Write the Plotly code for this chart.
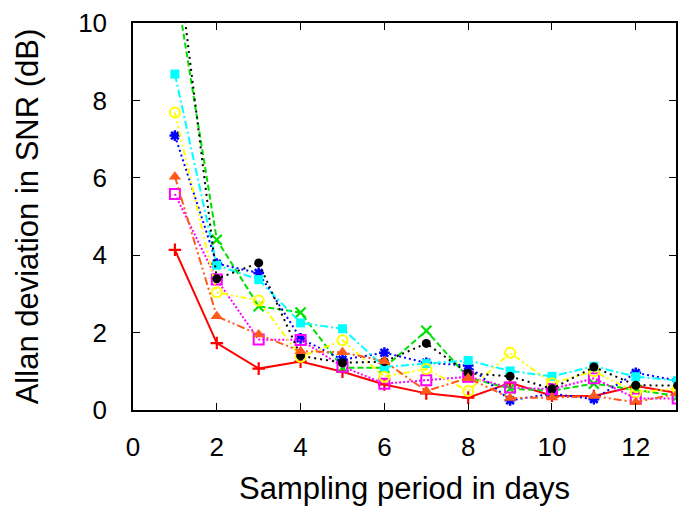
import plotly.graph_objects as go

days = [1, 2, 3, 4, 5, 6, 7, 8, 9, 10, 11, 12, 13]

red_vals     = [4.14, 1.73, 1.07, 1.25, 0.99, 0.66, 0.43, 0.32, 0.70, 0.37, 0.36, 0.62, 0.44]
green_vals   = [11.1, 4.40, 2.68, 2.52, 1.09, 1.09, 2.05, 0.84, 0.55, 0.50, 0.68, 0.52, 0.36]
blue_vals    = [7.09, 3.78, 3.54, 1.85, 1.30, 1.48, 1.22, 1.15, 0.25, 0.42, 0.28, 0.96, 0.76]
magenta_vals = [5.58, 3.37, 1.82, 1.81, 1.12, 0.68, 0.77, 0.86, 0.58, 0.54, 0.82, 0.30, 0.30]
cyan_vals    = [8.68, 3.74, 3.37, 2.25, 2.10, 1.11, 1.20, 1.28, 1.01, 0.87, 1.13, 0.86, 0.76]
yellow_vals  = [7.69, 3.04, 2.83, 1.37, 1.80, 0.86, 1.06, 0.49, 1.48, 0.69, 1.00, 0.46, 0.55]
black_vals   = [12.2, 3.39, 3.80, 1.40, 1.22, 1.25, 1.72, 0.95, 0.87, 0.55, 1.11, 0.64, 0.63]
orange_vals  = [6.03, 2.42, 1.95, 1.52, 1.49, 1.26, 0.49, 0.83, 0.31, 0.32, 0.36, 0.20, 0.43]

x_ticks = [0, 2, 4, 6, 8, 10, 12]
y_ticks = [0, 2, 4, 6, 8, 10]

series = [
    (red_vals, "#ff0000", "solid", "cross-thin", 9, 2.2),
    (green_vals, "#00e000", "6px,3px", "x-thin", 10, 2.2),
    (blue_vals, "#0000ff", "2px,3px", "asterisk", 9, 2.5),
    (magenta_vals, "#ff00ff", "2px,2px", "square-open", 10, 2.0),
    (cyan_vals, "#00ffff", "8px,3px,2px,3px", "square", 9, 0),
    (yellow_vals, "#ffff00", "6px,3px,2px,3px,2px,3px", "circle-open", 10, 2.0),
    (black_vals, "#000000", "2px,4px", "circle", 9, 0),
    (orange_vals, "#ff5a1a", "8px,3px,2px,3px,2px,3px", "triangle-up", 11, 0),
]

fig = go.Figure()
for vals, color, dash, sym, size, mlw in series:
    fig.add_trace(go.Scatter(
        x=days, y=vals, mode="lines+markers",
        line=dict(color=color, width=2, dash=dash),
        marker=dict(symbol=sym, size=size, color=color,
                    line=dict(color=color, width=mlw)),
        showlegend=False, cliponaxis=True,
    ))

tick_font = dict(family="Liberation Sans, Arial, sans-serif", size=26, color="#000000")
title_font = dict(family="Liberation Sans, Arial, sans-serif", size=31, color="#000000")

fig.update_layout(
    width=678, height=506,
    margin=dict(l=133, r=0, t=23, b=96),
    paper_bgcolor="white", plot_bgcolor="white",
    font=tick_font,
    xaxis=dict(
        range=[0, 12.96], tickvals=x_ticks, ticktext=[str(v) for v in x_ticks],
        ticks="inside", ticklen=7, tickwidth=1.2, tickcolor="#000000",
        showline=True, linecolor="#000000", linewidth=1.5, mirror="ticks",
        showgrid=False, zeroline=False, ticklabelstandoff=13,
        tickfont=tick_font,
        title=dict(text="Sampling period in days", font=title_font, standoff=17),
    ),
    yaxis=dict(
        range=[0, 10], tickvals=y_ticks, ticktext=[str(v) for v in y_ticks],
        ticks="inside", ticklen=7, tickwidth=1.2, tickcolor="#000000",
        showline=True, linecolor="#000000", linewidth=1.5, mirror="ticks",
        showgrid=False, zeroline=False, ticklabelstandoff=19,
        tickfont=tick_font,
        title=dict(text="Allan deviation in SNR (dB)", font=title_font, standoff=30),
    ),
)

fig.write_html("out.html")
